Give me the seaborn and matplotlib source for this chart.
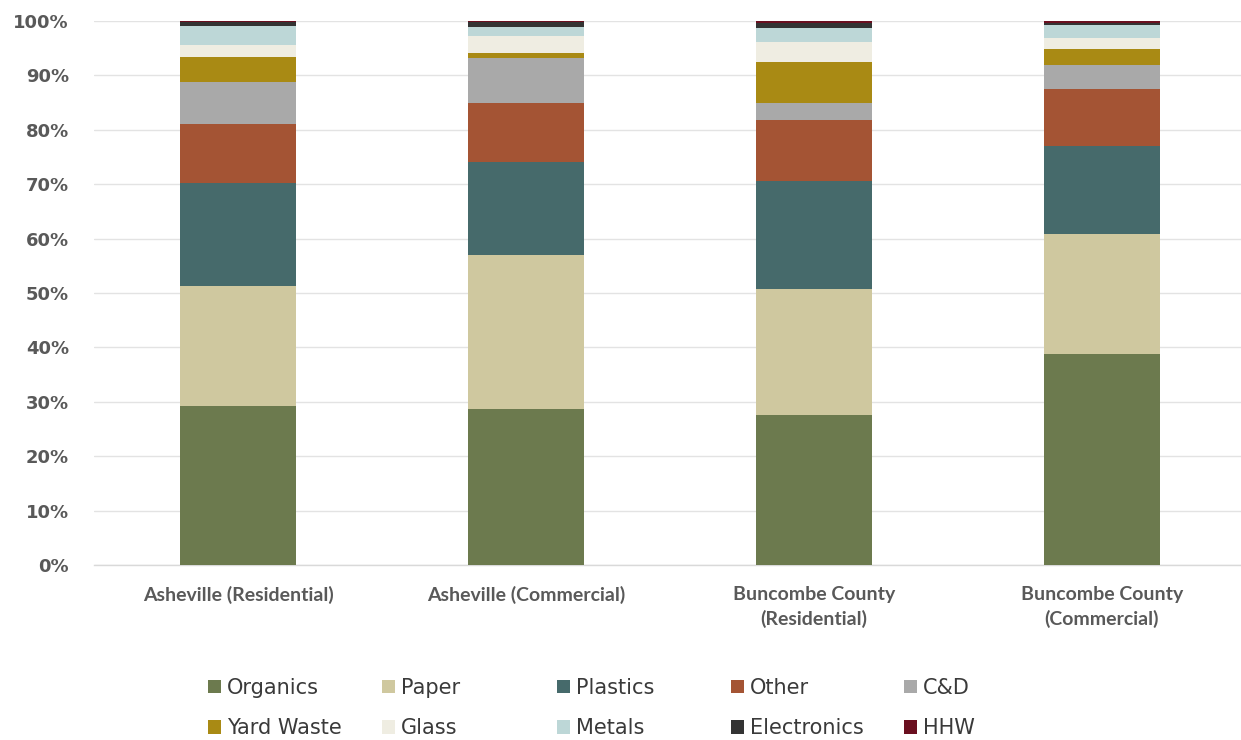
import matplotlib
matplotlib.use("Agg")
import matplotlib.pyplot as plt
from matplotlib.patches import Patch
import numpy as np
import pandas as pd
import seaborn as sns

# Waste composition by generator (share of total, %)
locations = ["Asheville (Residential)", "Asheville (Commercial)",
             "Buncombe County\n(Residential)", "Buncombe County\n(Commercial)"]
materials = ["Organics", "Paper", "Plastics", "Other", "C&D",
             "Yard Waste", "Glass", "Metals", "Electronics", "HHW"]

organics    = [29.2, 28.7, 27.6, 38.8]
paper       = [22.1, 28.3, 23.1, 22.0]
plastics    = [18.9, 17.1, 19.9, 16.2]
other       = [10.9, 10.8, 11.2, 10.5]
c_and_d     = [7.7, 8.3, 3.1, 4.4]
yard_waste  = [4.6, 0.9, 7.5, 2.9]
glass       = [2.2, 3.1, 3.7, 2.1]
metals      = [3.5, 1.8, 2.7, 2.3]
electronics = [0.8, 0.9, 0.9, 0.5]
hhw         = [0.1, 0.1, 0.3, 0.3]

series = [organics, paper, plastics, other, c_and_d,
          yard_waste, glass, metals, electronics, hhw]
colors = ["#6c7a4e", "#cfc89f", "#466a6b", "#a45434", "#a9a9a9",
          "#a98a14", "#efede2", "#bdd7d7", "#333333", "#6a0f1f"]

df = pd.DataFrame({m: v for m, v in zip(materials, series)})
df["location"] = locations
values = df[materials].to_numpy()
cum = np.cumsum(values, axis=1)
cum = cum / cum[:, -1:] * 100  # normalise each column to 100%

sns.set_theme(style="white")
plt.rcParams["font.family"] = ["DejaVu Sans"]

fig = plt.figure(figsize=(12.41, 7.40), dpi=100)
ax = fig.add_axes([94 / 1241, 0.2365, 1 - 94 / 1241, 0.735])

# Stacked bars: draw cumulative totals from the top layer down
for i in range(len(materials) - 1, -1, -1):
    sns.barplot(x=df["location"], y=cum[:, i], color=colors[i], width=0.4,
                saturation=1, ax=ax, linewidth=0, zorder=3)

ax.set_ylim(0, 100)
ax.set_xlim(-0.5, 3.483)
ax.set_yticks(np.arange(0, 101, 10))
ax.set_yticklabels([f"{t}%" for t in range(0, 101, 10)],
                   fontsize=13, fontweight="bold", color="#595959")
ax.set_xticks(range(len(locations)))
ax.set_xticklabels(locations, fontsize=14, fontweight="bold", color="#595959",
                   linespacing=1.5, family=["Lato", "DejaVu Sans"])
ax.set_xlabel("")
ax.set_ylabel("")
ax.tick_params(axis="y", length=0, pad=18)
ax.tick_params(axis="x", length=0, pad=15)
ax.yaxis.grid(True, color="#e3e3e3", linewidth=1, zorder=0)
ax.set_axisbelow(True)
for s in ["top", "right", "left"]:
    ax.spines[s].set_visible(False)
ax.spines["bottom"].set_color("#d9d9d9")
ax.spines["bottom"].set_linewidth(1)

# Legend: five fixed-width columns, two rows, filled row by row
col_x = [208, 382, 557, 731, 904]
for c, x in enumerate(col_x):
    idx = [c, c + 5]
    handles = [Patch(facecolor=colors[k], edgecolor="none") for k in idx]
    leg = fig.legend(handles, [materials[k] for k in idx], loc="center left",
                     bbox_to_anchor=(x / 1241, 1 - 708 / 740), frameon=False,
                     fontsize=15, handlelength=0.6, handleheight=0.6,
                     handletextpad=0.3, labelspacing=1.0, borderpad=0,
                     borderaxespad=0, labelcolor="#3a3a3a")

fig.savefig("out.png", dpi=100)
